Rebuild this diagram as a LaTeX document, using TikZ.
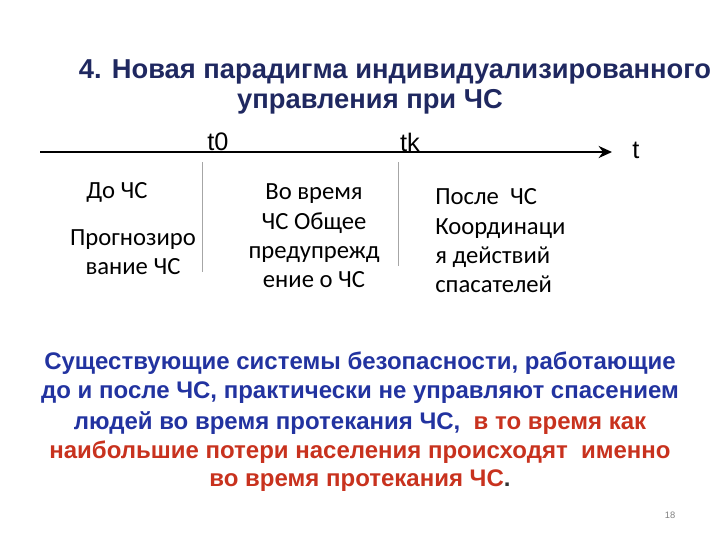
\documentclass[tikz,border=0pt]{standalone}
\usepackage{fontspec}
\setmainfont{Liberation Sans}
\newfontfamily\calfnt{Carlito}
\usetikzlibrary{arrows.meta}
\definecolor{navy}{HTML}{1F2860}
\definecolor{bl}{HTML}{2233A0}
\definecolor{rd}{HTML}{C8321E}
\tikzset{ttl/.style={font=\fontsize{20.5}{24}\selectfont\bfseries,text=navy,inner sep=0},
 par/.style={font=\fontsize{18}{21}\selectfont\bfseries,inner sep=0},
 cb/.style={font=\calfnt\fontsize{18.5}{22}\selectfont,align=center,inner sep=0},
 tl/.style={font=\fontsize{19}{22}\selectfont,inner sep=0}}
\begin{document}
\begin{tikzpicture}[x=0.75pt,y=-0.75pt]
\useasboundingbox (0,0) rectangle (720,540);
\node[ttl] (h1) at (395,72) {4. Новая парадигма индивидуализированного};
\node[ttl] (h2) at (370,102) {управления при ЧС};
\coordinate (a0) at (40,152); \coordinate (a1) at (612,152);
\draw[line width=2.2pt,-{Stealth[length=10pt,width=9pt]}] (a0) -- (a1);
\node[tl] (t0) at (218,142) {t0};
\node[tl] (tk) at (410,142) {tk};
\node[tl] (t) at (636,150) {t};
\coordinate (v1) at (202,162); \coordinate (v1b) at (202,272);
\coordinate (v2) at (398,162); \coordinate (v2b) at (398,266);
\draw[gray!70] (v1) -- (v1b); \draw[gray!70] (v2) -- (v2b);
\node[cb] (d1) at (117,192) {До ЧС};
\node[cb] (d2) at (133,252) {Прогнозиро\\вание ЧС};
\node[cb] (d3) at (314,236) {Во время\\ЧС Общее\\предупрежд\\ение о ЧС};
\node[cb,align=left,anchor=west] (d4) at (435,241) {После~ ЧС\\Координаци\\я действий\\спасателей};
\node[par,text=bl] (p1) at (360,363) {Существующие системы безопасности, работающие};
\node[par,text=bl] (p2) at (360,393) {до и после ЧС, практически не управляют спасением};
\node[par] (p3) at (360,423) {\textcolor{bl}{людей во время протекания ЧС,}\ \ \textcolor{rd}{в то время как}};
\node[par,text=rd] (p4) at (360,452) {наибольшие потери населения происходят~ именно};
\node[par] (p5) at (360,481) {\textcolor{rd}{во время протекания ЧС}\textcolor{black!80}{.}};
\node[font=\fontsize{7}{8}\selectfont,text=gray] (n) at (670,515) {18};
\end{tikzpicture}
\end{document}
